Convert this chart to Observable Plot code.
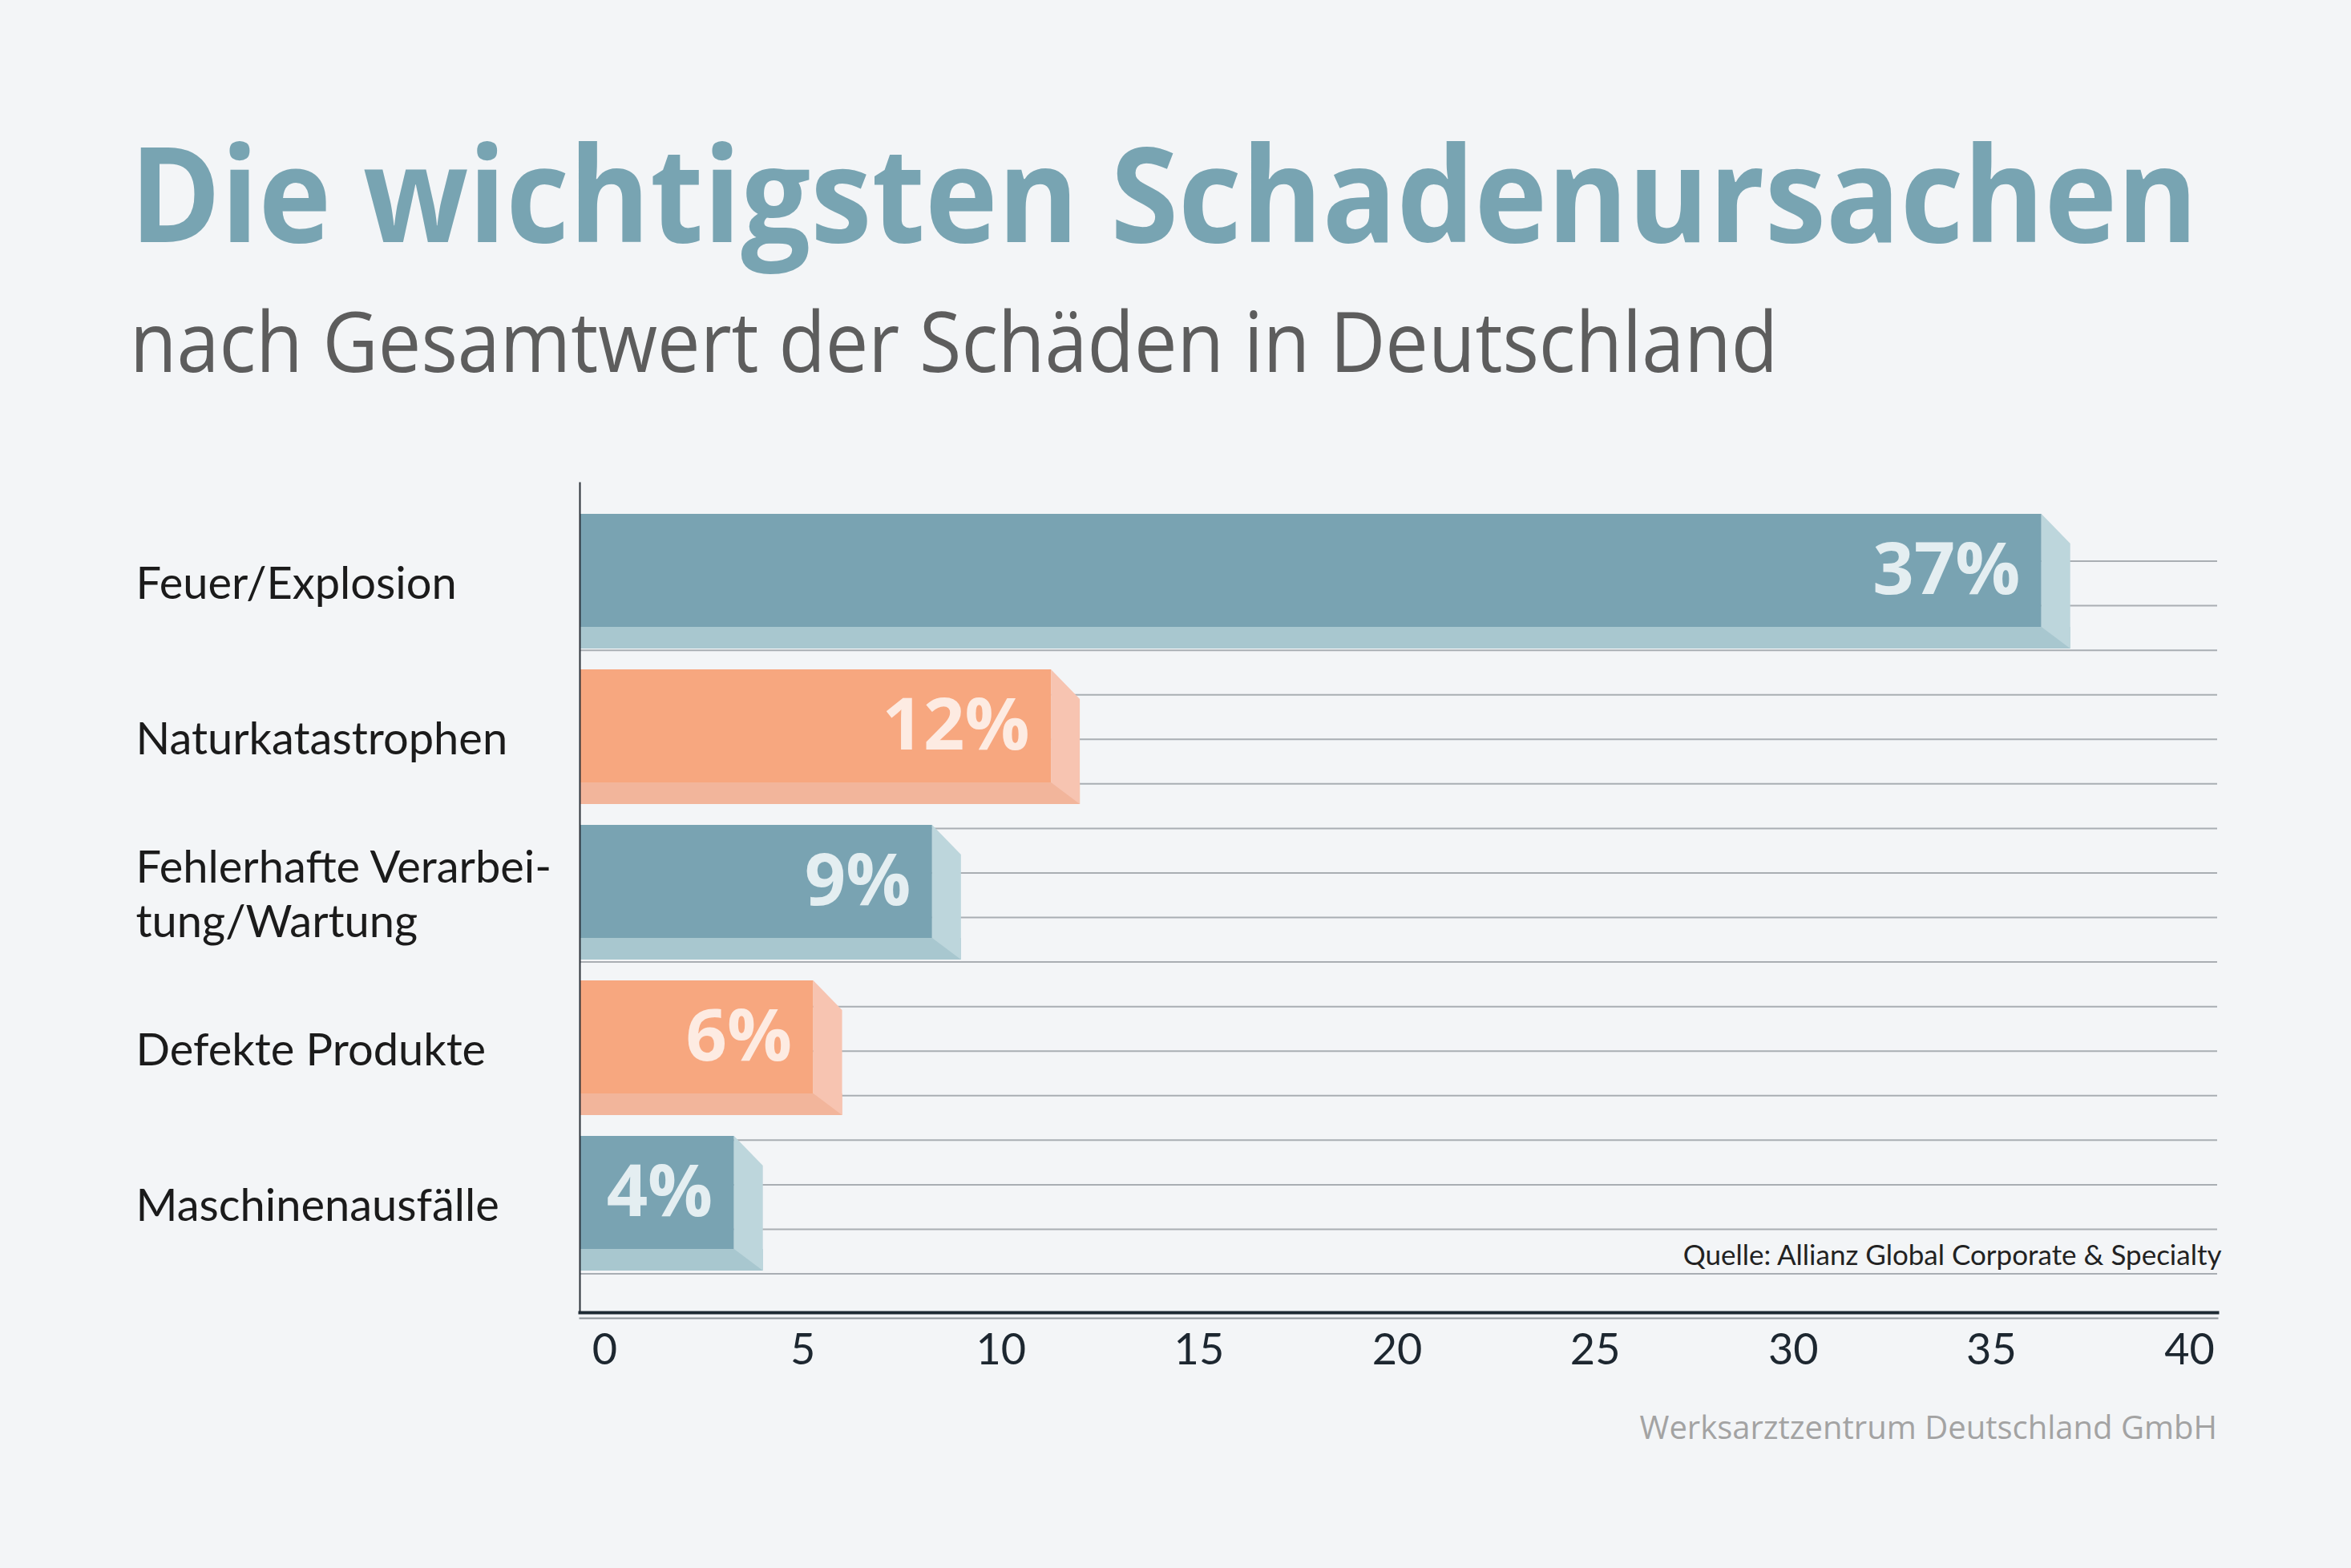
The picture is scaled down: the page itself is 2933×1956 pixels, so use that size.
<!DOCTYPE html>
<html><head><meta charset="utf-8">
<script src="https://cdn.jsdelivr.net/npm/d3@7"></script>
<script src="https://cdn.jsdelivr.net/npm/@observablehq/plot@0.6"></script>
<style>
html,body{margin:0;padding:0;background:#f3f5f7;}
#page{position:relative;width:2933px;height:1956px;overflow:hidden;background:#f3f5f7;}
.t{position:absolute;white-space:nowrap;line-height:1;transform-origin:0 0;}
#title{left:162px;top:126px;font:700 165px "Open Sans";color:#78a4b2;}
#subtitle{left:162px;top:353px;font:400 104px "Open Sans";color:#5d5d5d;}
#footer{right:167px;top:1752px;font:400 40px "Open Sans";color:#a3a3a3;}
#chart{position:absolute;left:0;top:560px;}
</style></head>
<body><div id="page">
<div id="title" class="t">Die wichtigsten Schadenursachen</div>
<div id="subtitle" class="t">nach Gesamtwert der Schäden in Deutschland</div>
<div id="chart"></div>
<div id="footer" class="t">Werksarztzentrum Deutschland GmbH</div>
</div>
<script>
const categories = ["Feuer/Explosion", "Naturkatastrophen", "Fehlerhafte Verarbei-\ntung/Wartung", "Defekte Produkte", "Maschinenausfälle"];
const values = [37, 12, 9, 6, 4];
const xTicks = [0, 5, 10, 15, 20, 25, 30, 35, 40];
const source = "Quelle: Allianz Global Corporate & Specialty";

const tones = {
  blue:   {front: "#79a3b2", bottom: "#a8c7cf", side: "#bdd6dc", label: "#e4eef1"},
  orange: {front: "#f7a77f", bottom: "#f2b59b", side: "#f7c4b1", label: "#fdebe2"}
};
const data = categories.map((c, i) => ({cat: c, value: values[i], tone: i % 2 === 0 ? "blue" : "orange"}));

const W = 2933, H = 1180, ML = 723, MR = 167, MT = 42, MB = 103;
const DX = 36, DY = 27, SLANT = 37, STUB = 31;

function ruled(index, scales, values, dims) {
  const g = d3.create("svg:g");
  const x1 = dims.marginLeft, x2 = dims.width - dims.marginRight;
  const top = dims.marginTop + 98, bottom = dims.height - dims.marginBottom - 48;
  const n = 17;
  for (let k = 0; k < n; k++) {
    const y = top + (bottom - top) * k / (n - 1);
    g.append("line").attr("x1", x1).attr("x2", x2).attr("y1", y).attr("y2", y)
      .attr("stroke", "#a9aeb3").attr("stroke-width", 2);
  }
  return g.node();
}

function depthFaces(index, scales, values, dims) {
  const g = d3.create("svg:g");
  const bw = (scales.y && typeof scales.y.bandwidth === "function") ? scales.y.bandwidth() : 169;
  for (const d of data) {
    const t = scales.y(d.cat), xe = scales.x(d.value), xs = dims.marginLeft;
    const b = t + bw, fb = b - DY, fr = xe - DX;
    g.append("rect").attr("x", xs).attr("y", fb).attr("width", xe - xs).attr("height", DY)
      .attr("fill", tones[d.tone].bottom);
    g.append("path").attr("d", `M${fr},${t}L${xe},${t + SLANT}L${xe},${b}L${fr},${fb}Z`)
      .attr("fill", tones[d.tone].side);
  }
  return g.node();
}

const chart = Plot.plot({
  width: W, height: H,
  marginLeft: ML, marginRight: MR, marginTop: MT, marginBottom: MB,
  style: {background: "transparent", overflow: "visible"},
  x: {domain: [0, 40], insetLeft: 31, insetRight: 35},
  y: {domain: categories, paddingInner: 0.1333, paddingOuter: 0, insetTop: 37, insetBottom: 49},
  color: {type: "identity"},
  marks: [
    ruled,
    Plot.barX(data, {x: "value", y: "cat", fill: d => tones[d.tone].front,
      insetRight: DX, insetBottom: DY, insetLeft: -STUB}),
    depthFaces,
    Plot.text(data, {x: "value", y: "cat", text: d => `${d.value}%`, textAnchor: "end",
      dx: -(DX + 27), dy: -DY / 2, fontSize: 90, fontWeight: 700, fontFamily: "Open Sans",
      fill: d => tones[d.tone].label}),
    Plot.text([source], {frameAnchor: "bottom-right", text: d => d, textAnchor: "end",
      dx: 5, dy: -60, lineAnchor: "bottom", fontSize: 35, fontFamily: "Lato", fill: "#222"}),
    Plot.frame({anchor: "left", stroke: "#2a3038", strokeWidth: 2}),
    Plot.frame({anchor: "bottom", stroke: "#1e2a33", strokeWidth: 4}),
    Plot.frame({anchor: "bottom", stroke: "#8d9398", strokeWidth: 2, dy: 7}),
    Plot.axisX(xTicks, {tickSize: 0, tickPadding: 26, fontSize: 54, fontFamily: "Lato",
      fill: "#1d2730", label: null}),
    Plot.axisY({tickSize: 0, tickPadding: 0, textAnchor: "start", dx: 169 - ML, fontSize: 56,
      fontFamily: "Lato", fill: "#1b1b1b", lineHeight: 1.2, label: null})
  ]
});
document.getElementById("chart").appendChild(chart);

function fit(id, target) {
  const el = document.getElementById(id);
  const w = el.getBoundingClientRect().width;
  if (w > 0) el.style.transform = `scaleX(${target / w})`;
}
fit("title", 2580);
fit("subtitle", 2056);
</script>
</body></html>
